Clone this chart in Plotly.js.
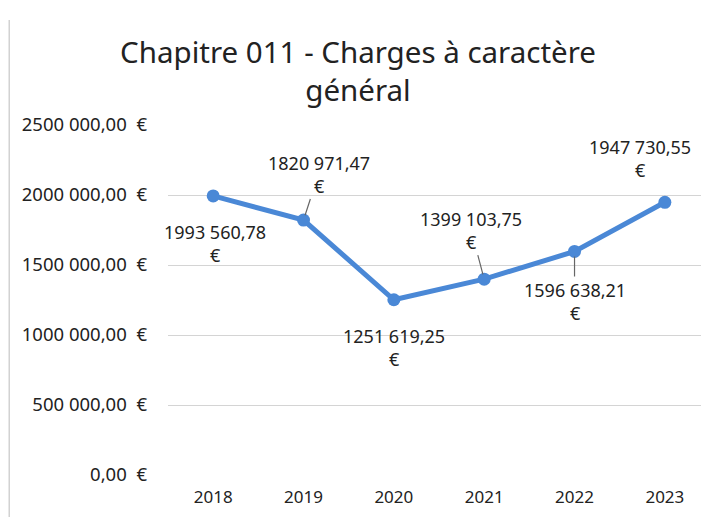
<!DOCTYPE html>
<html><head><meta charset="utf-8">
<script src="https://cdn.plot.ly/plotly-3.0.1.min.js"></script>
<style>body{margin:0;background:#fff}#c{width:709px;height:522px}</style>
</head><body><div id="c"></div>
<script>
const years = ['2018','2019','2020','2021','2022','2023'];
const values = [1993560.78, 1820971.47, 1251619.25, 1399103.75, 1596638.21, 1947730.55];
const yTicks = [0, 500000, 1000000, 1500000, 2000000, 2500000];
const labelOffsetX = [2, 15, 0, -13, 0, -25];
const labelOffsetY = [48, -46, 48, -49, 50, -44];
const leader = [false, true, false, true, true, false];

function fmt(v){
  const s = v.toFixed(2);
  let [ip, dp] = s.split('.');
  if (ip.length > 3) ip = ip.slice(0, ip.length-3) + ' ' + ip.slice(-3);
  return ip + ',' + dp;
}
const FONT = 'Noto Sans, Open Sans, sans-serif';
const blue = '#4a88d6';

const annotations = years.map((y,i)=>({
  x: i, y: values[i], xref:'x', yref:'y',
  text: fmt(values[i]) + '<br>€',
  showarrow: true, arrowhead: 0, arrowwidth: 1.2,
  arrowcolor: leader[i] ? '#666' : 'rgba(0,0,0,0)',
  ax: labelOffsetX[i], ay: labelOffsetY[i], standoff: 5,
  font: {family: FONT, size: 18, color: '#222'}
}));

const trace = {
  x: years, y: values, type:'scatter', mode:'lines+markers',
  line:{color: blue, width:5},
  marker:{color: blue, size:13},
  hoverinfo:'none'
};

const layout = {
  width:709, height:522,
  paper_bgcolor:'#fff', plot_bgcolor:'#fff',
  margin:{l:168, r:8, t:125, b:47},
  showlegend:false,
  title:{text:'Chapitre 011 - Charges à caractère<br>général', font:{family:FONT, size:29.5, color:'#222'},
         x:0.505, xref:'container', xanchor:'center', y:0.88, yref:'container', yanchor:'top'},
  xaxis:{type:'category', range:[-0.5, 5.4], showgrid:false, zeroline:false, showline:false,
         ticks:'', tickfont:{family:FONT, size:17, color:'#222'}, ticklabelstandoff:10},
  yaxis:{range:[0, 2500000], tickvals: yTicks, ticktext: yTicks.map(v=>fmt(v)+'\u00a0\u00a0€'),
         showgrid:true, gridcolor:'#d4d4d4', gridwidth:1, zeroline:false, showline:false,
         ticks:'', tickfont:{family:FONT, size:18.5, color:'#222'}, ticklabelstandoff:20},
  annotations: annotations,
  shapes:[{type:'line', xref:'paper', yref:'paper', x0:-0.298, x1:-0.298, y0:-0.12, y1:1.3,
           line:{color:'#bbb', width:1}}]
};
Plotly.newPlot('c',[trace],layout,{displayModeBar:false, staticPlot:true});
</script></body></html>
